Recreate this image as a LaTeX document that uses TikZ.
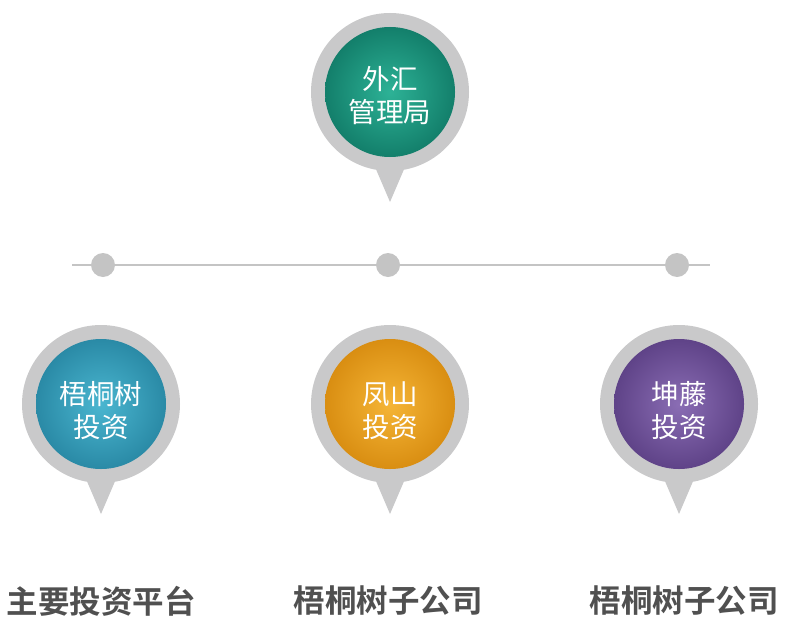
\documentclass[tikz,border=0pt]{standalone}
\usepackage{fontspec}
\newfontfamily\cjk{Noto Sans CJK SC}
\newfontfamily\cjkb{Noto Sans CJK SC Bold}
\usetikzlibrary{shadings}
\definecolor{ringgray}{HTML}{C9C9CA}
\definecolor{linegray}{HTML}{C4C4C4}
\definecolor{labelgray}{HTML}{505050}
\definecolor{tealA}{HTML}{2DB296}
\definecolor{tealB}{HTML}{137F6B}
\definecolor{blueA}{HTML}{4AB6D0}
\definecolor{blueB}{HTML}{2A8AA6}
\definecolor{orangeA}{HTML}{F5B536}
\definecolor{orangeB}{HTML}{D98E12}
\definecolor{purpleA}{HTML}{8A6DB4}
\definecolor{purpleB}{HTML}{5F4388}
\tikzset{
  x=1pt, y=-1pt,
  ring/.style={fill=ringgray, draw=none},
  dotstyle/.style={circle, fill=linegray, draw=none, minimum size=24pt, inner sep=0pt},
  pintext/.style={text=white, font=\cjk\fontsize{27.5}{33}\selectfont, align=center},
  labeltext/.style={text=labelgray, font=\cjkb\fontsize{31.5}{34}\selectfont},
}
\newcommand{\mypin}[5]{% name, x, y, colA, colB
  \fill[ring] (#2-18,#3+68) -- (#2,#3+110) -- (#2+18,#3+68) -- cycle;
  \fill[ring] (#2,#3) circle (79);
  \shade[inner color=#4, outer color=#5] (#2,#3) circle (65);
  \coordinate (#1) at (#2,#3);
}
\begin{document}
\begin{tikzpicture}
\useasboundingbox (0,0) rectangle (786,642);
% horizontal line with dots
\coordinate (lineL) at (72,265);
\coordinate (lineR) at (710,265);
\draw[linegray, line width=2.5pt] (lineL) -- (lineR);
\node[dotstyle] (d1) at (103,265) {};
\node[dotstyle] (d2) at (388,265) {};
\node[dotstyle] (d3) at (677,265) {};
% pins
\mypin{top}{390}{92}{tealA}{tealB}
\mypin{left}{101}{404}{blueA}{blueB}
\mypin{mid}{390}{404}{orangeA}{orangeB}
\mypin{right}{679}{404}{purpleA}{purpleB}
\node[pintext] (ttop) at (390,96) {外汇\\管理局};
\node[pintext] (tleft) at (101,411) {梧桐树\\投资};
\node[pintext] (tmid) at (390,411) {凤山\\投资};
\node[pintext] (tright) at (679,411) {坤藤\\投资};
% labels
\node[labeltext] (l1) at (101,601) {主要投资平台};
\node[labeltext] (l2) at (388,601) {梧桐树子公司};
\node[labeltext] (l3) at (684,601) {梧桐树子公司};
\end{tikzpicture}
\end{document}
